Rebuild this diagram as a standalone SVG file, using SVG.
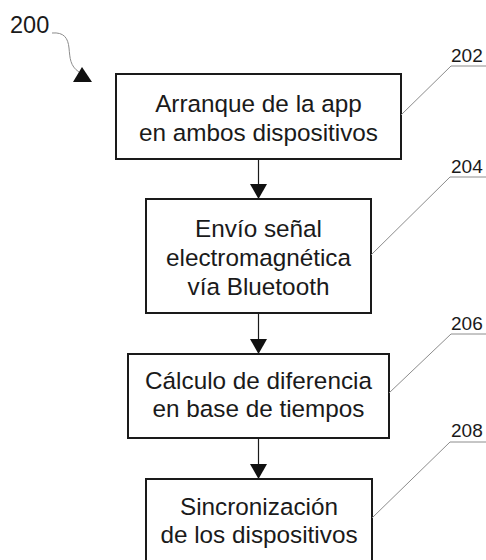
<svg xmlns="http://www.w3.org/2000/svg" width="486" height="560" viewBox="0 0 486 560">
<defs>
<style>
.box{fill:#fff;stroke:#1a1a1a;stroke-width:2}
.t{font-family:"Liberation Sans",Arial,sans-serif;font-size:24.3px;fill:#1a1a1a;text-anchor:middle}
.ref{font-family:"Liberation Sans",Arial,sans-serif;font-size:19px;fill:#1a1a1a}
.lead{fill:none;stroke:#8c8c8c;stroke-width:1}
.flow{stroke:#1a1a1a;stroke-width:1.2;fill:none}
.head{fill:#111}
</style>
</defs>
<rect width="486" height="560" fill="#fff"/>
<g id="label-200">
<text x="10" y="33" style="font-family:'Liberation Sans',Arial,sans-serif;font-size:23.5px;fill:#1a1a1a">200</text>
<path class="lead" d="M52,33 C64,32 68,38 69,48 S70,66 79,72"/>
<polygon class="head" points="82,67 73,82 92,82"/>
</g>
<g id="connectors">
<line class="flow" x1="258.5" y1="159" x2="258.5" y2="184"/>
<polygon class="head" points="250,184 267,184 258.5,199"/>
<line class="flow" x1="258.5" y1="313" x2="258.5" y2="339"/>
<polygon class="head" points="250,339 267,339 258.5,354"/>
<line class="flow" x1="258.5" y1="438" x2="258.5" y2="464"/>
<polygon class="head" points="250,464 267,464 258.5,479"/>
</g>
<g id="node-202">
<rect class="box" x="116" y="74" width="285" height="85"/>
<text class="t" x="258.5" y="112">Arranque de la app</text>
<text class="t" x="258.5" y="141">en ambos dispositivos</text>
<path class="lead" d="M401,115 L451,66 L486,66"/>
<text class="ref" x="451" y="62">202</text>
</g>
<g id="node-204">
<rect class="box" x="146" y="199" width="225" height="114"/>
<text class="t" x="258.5" y="237">Envío señal</text>
<text class="t" x="258.5" y="266">electromagnética</text>
<text class="t" x="258.5" y="295">vía Bluetooth</text>
<path class="lead" d="M371,255 L450,177 L486,177"/>
<text class="ref" x="451" y="173">204</text>
</g>
<g id="node-206">
<rect class="box" x="128" y="354" width="261" height="84"/>
<text class="t" x="258.5" y="389">Cálculo de diferencia</text>
<text class="t" x="258.5" y="417">en base de tiempos</text>
<path class="lead" d="M389,393 L451,334 L486,334"/>
<text class="ref" x="451" y="330">206</text>
</g>
<g id="node-208">
<rect class="box" x="146" y="479" width="226" height="100"/>
<text class="t" x="259" y="515">Sincronización</text>
<text class="t" x="259" y="543">de los dispositivos</text>
<path class="lead" d="M372,518 L450,442 L486,442"/>
<text class="ref" x="451" y="437">208</text>
</g>
</svg>
